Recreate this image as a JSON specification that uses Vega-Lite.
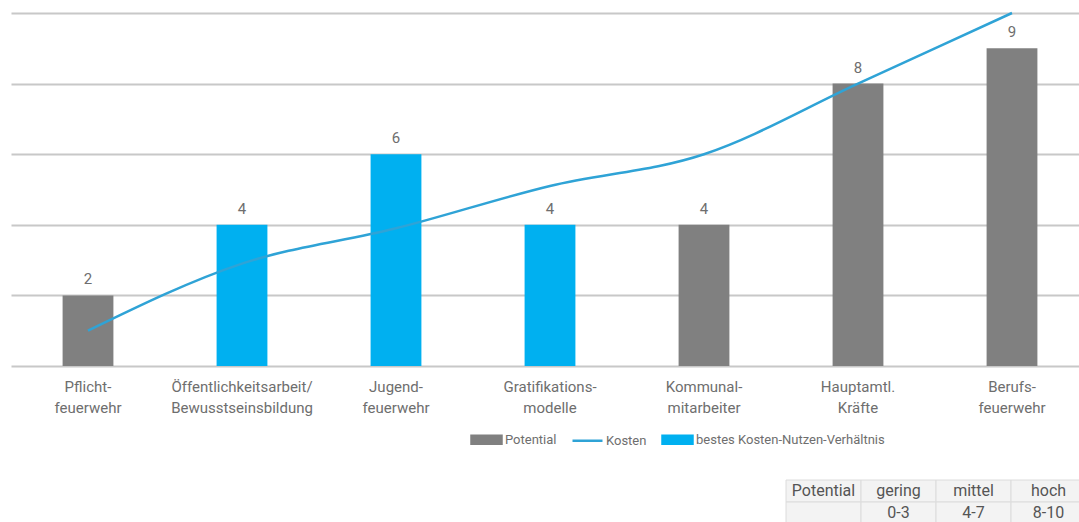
{
  "$schema": "https://vega.github.io/schema/vega-lite/v6.json",
  "padding": {"left": 11, "top": 8, "right": 0, "bottom": 0},
  "spacing": 30,
  "config": {
    "view": {"stroke": null},
    "font": "Roboto",
    "concat": {"spacing": 0}
  },
  "datasets": {
    "main": [
      {"cat": "Pflicht-|feuerwehr", "potential": 2, "kosten": 1.0, "group": "Potential"},
      {"cat": "Öffentlichkeitsarbeit/|Bewusstseinsbildung", "potential": 4, "kosten": 2.9, "group": "bestes Kosten-Nutzen-Verhältnis"},
      {"cat": "Jugend-|feuerwehr", "potential": 6, "kosten": 3.9, "group": "bestes Kosten-Nutzen-Verhältnis"},
      {"cat": "Gratifikations-|modelle", "potential": 4, "kosten": 5.1, "group": "bestes Kosten-Nutzen-Verhältnis"},
      {"cat": "Kommunal-|mitarbeiter", "potential": 4, "kosten": 6.0, "group": "Potential"},
      {"cat": "Hauptamtl.|Kräfte", "potential": 8, "kosten": 8.0, "group": "Potential"},
      {"cat": "Berufs-|feuerwehr", "potential": 9, "kosten": 10.0, "group": "Potential"}
    ],
    "table": [
      {"col": "Potential", "row": "1", "text": "Potential"},
      {"col": "gering", "row": "1", "text": "gering"},
      {"col": "mittel", "row": "1", "text": "mittel"},
      {"col": "hoch", "row": "1", "text": "hoch"},
      {"col": "Potential", "row": "2", "text": ""},
      {"col": "gering", "row": "2", "text": "0-3"},
      {"col": "mittel", "row": "2", "text": "4-7"},
      {"col": "hoch", "row": "2", "text": "8-10"}
    ]
  },
  "vconcat": [
    {
      "width": 1078,
      "height": 353,
      "data": {"name": "main"},
      "encoding": {
        "x": {
          "field": "cat",
          "type": "nominal",
          "sort": null,
          "scale": {"paddingInner": 0.67, "paddingOuter": 0.335},
          "axis": {
            "title": null,
            "domain": false,
            "ticks": false,
            "labelAngle": 0,
            "labelExpr": "split(datum.label, '|')",
            "labelFont": "Roboto",
            "labelFontSize": 15,
            "labelColor": "#6e6e6e",
            "labelLineHeight": 21,
            "labelPadding": 13,
            "labelBaseline": "top",
            "labelLimit": 300
          }
        }
      },
      "layer": [
        {
          "mark": {"type": "bar"},
          "encoding": {
            "y": {
              "field": "potential",
              "type": "quantitative",
              "scale": {"domain": [0, 10], "nice": false},
              "axis": {
                "title": null,
                "labels": false,
                "ticks": false,
                "domain": false,
                "values": [0, 2, 4, 6, 8, 10],
                "gridColor": "#c8c8c8",
                "gridWidth": 2
              }
            },
            "color": {
              "field": "group",
              "type": "nominal",
              "scale": {
                "domain": ["Potential", "Kosten", "bestes Kosten-Nutzen-Verhältnis"],
                "range": ["#808080", "#2fa3d6", "#00b0f0"]
              },
              "legend": {
                "title": null,
                "orient": "none",
                "direction": "horizontal",
                "legendX": 459,
                "legendY": 410,
                "symbolSize": 900,
                "symbolStrokeWidth": 2.5,
                "labelFont": "Roboto",
                "labelFontSize": 13,
                "labelColor": "#6e6e6e",
                "labelOffset": 2,
                "labelLimit": 300,
                "columnPadding": 10,
                "encode": {
                  "symbols": {
                    "update": {
                      "shape": {"signal": "datum.value === 'Kosten' ? 'M-1,0H1' : 'M-1,-0.27H1V0.27H-1Z'"},
                      "fill": {"signal": "datum.value === 'Kosten' ? 'transparent' : (datum.value === 'Potential' ? '#808080' : '#00b0f0')"},
                      "stroke": {"signal": "datum.value === 'Kosten' ? '#2fa3d6' : 'transparent'"},
                      "strokeWidth": {"value": 2.5},
                      "opacity": {"value": 1}
                    }
                  }
                }
              }
            }
          }
        },
        {
          "mark": {"type": "text", "baseline": "bottom", "dy": -8, "fontSize": 15, "color": "#6e6e6e", "font": "Roboto"},
          "encoding": {
            "y": {"field": "potential", "type": "quantitative"},
            "text": {"field": "potential", "type": "quantitative"}
          }
        },
        {
          "mark": {"type": "line", "interpolate": "monotone", "strokeWidth": 2.5, "color": "#2fa3d6"},
          "encoding": {
            "y": {"field": "kosten", "type": "quantitative"},
            "color": {"datum": "Kosten"}
          }
        }
      ]
    },
    {
      "hconcat": [
        {
          "width": 774,
          "height": 44,
          "data": {"values": [{"a": 1}]},
          "mark": {"type": "text"},
          "encoding": {"text": {"value": ""}}
        },
        {
          "width": 300,
          "height": 44,
          "data": {"name": "table"},
          "encoding": {
            "x": {"field": "col", "type": "nominal", "sort": null, "scale": {"paddingInner": 0, "paddingOuter": 0}, "axis": null},
            "y": {"field": "row", "type": "nominal", "sort": null, "scale": {"paddingInner": 0, "paddingOuter": 0}, "axis": null}
          },
          "layer": [
            {
              "mark": {"type": "rect", "fill": "#f3f3f3", "stroke": "#dcdcdc", "strokeWidth": 1}
            },
            {
              "mark": {"type": "text", "fontSize": 16, "color": "#555555", "font": "Roboto"},
              "encoding": {"text": {"field": "text"}}
            }
          ]
        }
      ]
    }
  ],
  "resolve": {"scale": {"color": "independent", "x": "independent", "y": "independent"}, "legend": {"color": "independent"}}
}
